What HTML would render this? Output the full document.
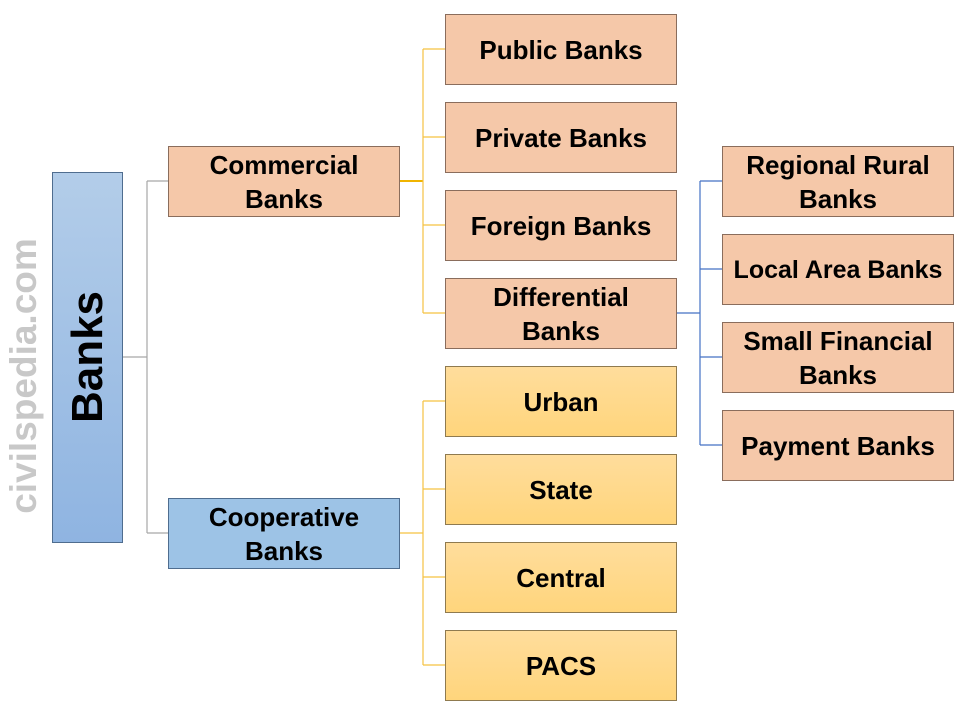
<!DOCTYPE html>
<html><head><meta charset="utf-8"><style>
body{margin:0;width:963px;height:706px;background:#fff;position:relative;overflow:hidden;font-family:"Liberation Sans",sans-serif;}
.b{position:absolute;box-sizing:border-box;border:1.3px solid #8a6d5c;display:flex;align-items:center;justify-content:center;text-align:center;font-weight:bold;font-size:26px;line-height:34px;color:#000;white-space:nowrap;}
.p{background:#f5c8a9;}
.y{background:linear-gradient(#ffdd9c,#ffd57c);border-color:#8f7a4f;}
.l{position:absolute;}
.rot{position:absolute;transform:translate(-50%,-50%) rotate(-90deg);font-weight:bold;white-space:nowrap;}
</style></head><body>
<svg class="l" width="963" height="706" style="left:0;top:0">
<g fill="none" stroke-width="1.2">
<path d="M122 357H147M147 181V533M147 181H168M147 533H168" stroke="#a6a6a6"/>
<path d="M399 181H423" stroke="#f0b400" stroke-width="2"/>
<path d="M423 49V313M423 49H445M423 137H445M423 225H445M423 313H445" stroke="#f5c242"/>
<path d="M399 533H423M423 401V665M423 401H445M423 489H445M423 577H445M423 665H445" stroke="#f5c242"/>
<path d="M676 313H700M700 181V445M700 181H722M700 269H722M700 357H722M700 445H722" stroke="#4472c4"/>
</g></svg>
<div class="rot" style="left:24px;top:376px;font-size:37px;color:#c8c8c8;">civilspedia.com</div>
<div class="b" style="left:52px;top:172px;width:71px;height:371px;background:linear-gradient(#b3cde9,#8fb4e1);border-color:#4f6d8f"></div>
<div class="rot" style="left:88px;top:357px;font-size:44px;">Banks</div>
<div class="b p" style="left:168px;top:146px;width:232px;height:71px">Commercial<br>Banks</div>
<div class="b" style="left:168px;top:498px;width:232px;height:71px;background:#9dc3e6;border-color:#4f6d8f">Cooperative<br>Banks</div>
<div class="b p" style="left:445px;top:14px;width:232px;height:71px">Public Banks</div>
<div class="b p" style="left:445px;top:102px;width:232px;height:71px">Private Banks</div>
<div class="b p" style="left:445px;top:190px;width:232px;height:71px">Foreign Banks</div>
<div class="b p" style="left:445px;top:278px;width:232px;height:71px">Differential<br>Banks</div>
<div class="b y" style="left:445px;top:366px;width:232px;height:71px">Urban</div>
<div class="b y" style="left:445px;top:454px;width:232px;height:71px">State</div>
<div class="b y" style="left:445px;top:542px;width:232px;height:71px">Central</div>
<div class="b y" style="left:445px;top:630px;width:232px;height:71px">PACS</div>
<div class="b p" style="left:722px;top:146px;width:232px;height:71px">Regional Rural<br>Banks</div>
<div class="b p" style="left:722px;top:234px;width:232px;height:71px;font-size:25px">Local Area Banks</div>
<div class="b p" style="left:722px;top:322px;width:232px;height:71px">Small Financial<br>Banks</div>
<div class="b p" style="left:722px;top:410px;width:232px;height:71px">Payment Banks</div>
</body></html>
